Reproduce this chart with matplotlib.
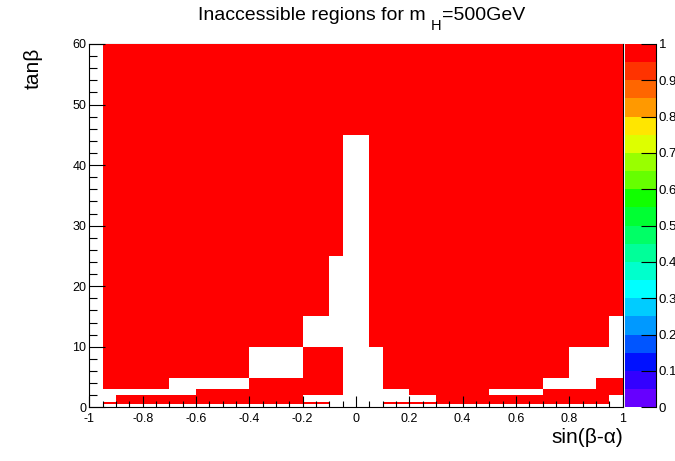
import numpy as np
import matplotlib
matplotlib.use('Agg')
import matplotlib.pyplot as plt
from matplotlib.colors import ListedColormap, Normalize

plt.rcParams['font.family'] = ['Liberation Sans', 'DejaVu Sans']

# bin edges of the scan
sin_edges = np.linspace(-1, 1, 41)          # sin(beta-alpha), 0.05 wide bins
tanb_edges = [0, 0.5, 0.85, 2, 3, 4.85, 10, 15, 25, 45, 60]

# one string per tanb bin (bottom -> top), one char per sin bin: 1 = inaccessible
rows = [
    "0000000000" "0000000000" "0000000000" "0000000000",   # 0 - 0.5
    "0111111111" "1111111100" "0011111111" "1111111110",   # 0.5 - 0.85
    "0011111111" "1111110000" "0000001111" "1111111110",   # 0.85 - 2
    "0000000011" "1111111110" "0000111111" "0000111111",   # 2 - 3
    "0111110000" "0011111110" "0011111111" "1111000011",   # 3 - 4.85
    "0111111111" "1100001110" "0011111111" "1111110000",   # 4.85 - 10
    "0111111111" "1111110000" "0111111111" "1111111110",   # 10 - 15
    "0111111111" "1111111100" "0111111111" "1111111111",   # 15 - 25
    "0111111111" "1111111110" "0111111111" "1111111111",   # 25 - 45
    "0111111111" "1111111111" "1111111111" "1111111111",   # 45 - 60
]

# old ROOT rainbow palette, 20 contours
palette = ['#6600ff', '#3300ff', '#0011ff', '#0055ff', '#0099ff',
           '#00ccff', '#00ffff', '#00ffcc', '#00ff99', '#00ff66',
           '#00ff33', '#11ff00', '#66ff00', '#99ff00', '#ddff00',
           '#ffe600', '#ff9900', '#ff6600', '#ff3300', '#ff0000']
cbar_ticks = [0, 0.1, 0.2, 0.3, 0.4, 0.5, 0.6, 0.7, 0.8, 0.9, 1]
cbar_labels = ['0', '0.1', '0.2', '0.3', '0.4', '0.5', '0.6', '0.7', '0.8', '0.9', '1']
xtick_labels = ['-1', '-0.8', '-0.6', '-0.4', '-0.2', '0', '0.2', '0.4', '0.6', '0.8', '1']

grid = np.array([[1.0 if c == '1' else np.nan for c in r] for r in rows])
grid = np.ma.masked_invalid(grid)

W, H = 675, 461
fig = plt.figure(figsize=(W / 100, H / 100), dpi=100)
ax = fig.add_axes([89.3 / W, 1 - 407.3 / H, 533.4 / W, 363.3 / H])
cax = fig.add_axes([624.7 / W, 1 - 407.3 / H, 31 / W, 363.3 / H])

cmap = ListedColormap(palette)
mesh = ax.pcolormesh(sin_edges, tanb_edges, grid, cmap=cmap, norm=Normalize(0, 1))

ax.set_xlim(-1, 1)
ax.set_ylim(0, 60)
ax.set_xticks(np.arange(-1, 1.01, 0.2))
ax.set_xticklabels(xtick_labels)
ax.set_xticks(np.arange(-1, 1.001, 0.05), minor=True)
ax.set_yticks(np.arange(0, 61, 10))
ax.set_yticks(np.arange(0, 61, 2), minor=True)
ax.tick_params(axis='both', which='both', direction='in', top=False, right=False,
               labelsize=9, width=0.8)
ax.tick_params(axis='x', which='major', length=8, pad=4)
ax.tick_params(axis='x', which='minor', length=4)
ax.tick_params(axis='y', which='major', length=11.5, pad=2)
ax.tick_params(axis='y', which='minor', length=5.8)
for s in ax.spines.values():
    s.set_zorder(0.5)
    s.set_linewidth(0.8)

ax.set_xlabel('sin(β-α)', fontsize=15, loc='right')
ax.xaxis.set_label_coords(1.0, -0.058)
ax.set_ylabel('tanβ', fontsize=15, loc='top')
ax.yaxis.set_label_coords(-0.088, 0.99)

# title, ROOT-like subscript: "m" then a lowered "H", then "=500GeV"
t1 = fig.text(198 / W, 1 - 20 / H, 'Inaccessible regions for m', ha='left',
              va='baseline', fontsize=14)
ax.annotate('H', xy=(1, 0), xycoords=t1, xytext=(3.5, -6.5), textcoords='offset points',
            ha='left', va='bottom', fontsize=10.5, annotation_clip=False)
ax.annotate('=500GeV', xy=(1, 0), xycoords=t1, xytext=(12, 0), textcoords='offset points',
            ha='left', va='bottom', fontsize=14, annotation_clip=False)

cbar = fig.colorbar(mesh, cax=cax, ticks=cbar_ticks)
cbar.ax.set_yticklabels(cbar_labels)
cbar.outline.set_visible(False)
cax.tick_params(direction='in', length=11, width=0.8, labelsize=9.5, pad=2, right=True)
cax.plot([1, 1], [0, 1], transform=cax.transAxes, color='k', lw=0.8, clip_on=False)

fig.savefig('out.png', dpi=100)
